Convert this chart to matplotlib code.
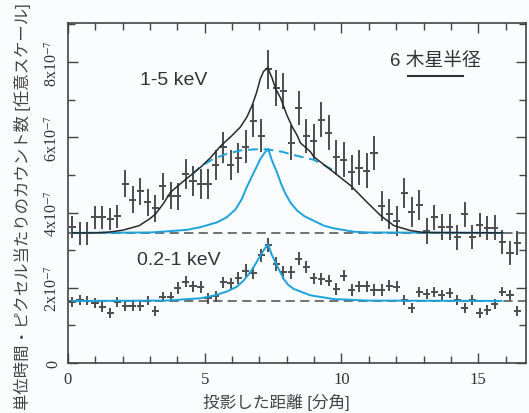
# Radial profile of the X-ray counts, 1-5 keV and 0.2-1 keV bands, with model curves.

import matplotlib
matplotlib.use("Agg")
import matplotlib.pyplot as plt
from matplotlib.ticker import MultipleLocator

plt.rcParams['font.family'] = ['Liberation Sans', 'Noto Sans CJK JP', 'DejaVu Sans']
plt.rcParams['mathtext.fontset'] = 'stix'

# bin centres [arcmin]
r = [0.16, 0.44, 0.71, 0.99, 1.26, 1.54, 1.81, 2.09, 2.37, 2.64,
     2.92, 3.19, 3.47, 3.75, 4.02, 4.30, 4.57, 4.85, 5.12, 5.40,
     5.68, 5.95, 6.23, 6.50, 6.78, 7.06, 7.33, 7.61, 7.88, 8.16,
     8.43, 8.71, 8.99, 9.26, 9.54, 9.81, 10.09, 10.37, 10.64, 10.92,
     11.19, 11.47, 11.74, 12.02, 12.30, 12.57, 12.85, 13.12, 13.40, 13.67,
     13.95, 14.23, 14.50, 14.78, 15.05, 15.33, 15.61, 15.88, 16.16, 16.43]
r_err = 0.13

# 1-5 keV counts [1e-7]
hard = [3.61, 3.45, 3.45, 3.87, 3.87, 3.83, 3.90, 4.76, 4.34, 4.56,
        4.27, 4.11, 4.70, 4.45, 4.43, 5.03, 4.85, 4.76, 4.76, 5.27,
        5.73, 5.27, 5.44, 5.75, 6.44, 6.04, 7.81, 7.30, 7.23, 5.86,
        6.78, 6.04, 5.89, 6.47, 6.12, 5.47, 5.41, 5.07, 5.19, 5.11,
        5.58, 4.17, 3.97, 3.77, 4.52, 4.01, 4.19, 3.51, 3.87, 3.62,
        3.62, 3.34, 3.95, 3.35, 3.67, 3.59, 3.60, 3.21, 2.93, 3.19]
hard_err = [0.30, 0.30, 0.30, 0.30, 0.30, 0.30, 0.30, 0.36, 0.36, 0.36,
            0.36, 0.36, 0.36, 0.36, 0.36, 0.40, 0.40, 0.40, 0.40, 0.40,
            0.40, 0.40, 0.40, 0.44, 0.44, 0.44, 0.52, 0.48, 0.48, 0.46,
            0.46, 0.46, 0.46, 0.46, 0.46, 0.46, 0.46, 0.46, 0.46, 0.46,
            0.46, 0.40, 0.40, 0.40, 0.40, 0.40, 0.40, 0.34, 0.34, 0.34,
            0.34, 0.33, 0.33, 0.33, 0.33, 0.33, 0.33, 0.32, 0.32, 0.32]

# 0.2-1 keV counts [1e-7]
soft = [1.63, 1.68, 1.66, 1.60, 1.48, 1.33, 1.63, 1.52, 1.52, 1.52,
        1.66, 1.39, 1.75, 1.76, 1.99, 2.16, 2.04, 2.02, 1.72, 1.77,
        2.14, 2.12, 2.27, 2.45, 2.39, 2.86, 3.14, 2.63, 2.41, 2.41,
        2.77, 2.55, 2.25, 2.23, 2.19, 1.97, 2.32, 1.94, 2.04, 2.04,
        1.94, 1.94, 2.06, 2.03, 1.68, 1.47, 1.89, 1.84, 1.88, 1.81,
        1.86, 1.68, 1.46, 1.68, 1.32, 1.41, 1.57, 1.90, 1.81, 1.39]
soft_err = [0.13, 0.13, 0.13, 0.13, 0.13, 0.13, 0.13, 0.13, 0.13, 0.13,
            0.13, 0.13, 0.14, 0.14, 0.15, 0.15, 0.15, 0.15, 0.15, 0.15,
            0.15, 0.15, 0.16, 0.17, 0.17, 0.18, 0.19, 0.18, 0.17, 0.17,
            0.17, 0.17, 0.15, 0.15, 0.15, 0.15, 0.15, 0.15, 0.15, 0.15,
            0.15, 0.15, 0.15, 0.15, 0.13, 0.13, 0.13, 0.13, 0.13, 0.13,
            0.13, 0.13, 0.13, 0.13, 0.13, 0.13, 0.13, 0.13, 0.13, 0.13]

# background levels
bg_hard = 3.46
bg_soft = 1.65

# total model, 1-5 keV
tot_x = [0.16, 1.0, 1.5, 2.0, 2.6, 3.0, 3.2, 3.5, 3.75, 4.1, 4.47, 4.84, 5.2, 5.57,
         6.0, 6.3, 6.55, 6.75, 6.9, 7.03, 7.15, 7.3, 7.45, 7.6, 7.77, 8.01, 8.2,
         8.38, 8.5, 8.86, 8.99, 9.4, 9.72, 10.33, 10.94, 11.43, 11.92, 12.53, 13.0, 15.9]
tot_y = [3.46, 3.46, 3.48, 3.53, 3.65, 3.84, 3.96, 4.25, 4.54, 4.76, 4.98, 5.20, 5.45, 5.76,
         6.05, 6.27, 6.55, 6.88, 7.20, 7.55, 7.75, 7.85, 7.60, 7.28, 7.05, 6.58, 6.28,
         6.05, 5.85, 5.62, 5.48, 5.25, 5.07, 4.72, 4.27, 3.92, 3.65, 3.52, 3.47, 3.46]

# broad component (dashed), 1-5 keV
broad_x = [4.55, 4.84, 5.32, 5.8, 6.3, 6.8, 7.28, 7.8, 8.25, 8.99, 9.72]
broad_y = [5.02, 5.22, 5.43, 5.56, 5.65, 5.68, 5.68, 5.62, 5.53, 5.40, 5.12]

# narrow component, 1-5 keV
narrow_x = [0.16, 3.0, 3.62, 4.35, 4.84, 5.45, 5.8, 6.12, 6.35, 6.54, 6.75, 6.9, 7.03,
            7.2, 7.32, 7.45, 7.64, 7.8, 7.95, 8.15, 8.38, 8.65, 8.99, 9.36, 9.72,
            10.45, 11.0, 15.9]
narrow_y = [3.46, 3.47, 3.50, 3.54, 3.61, 3.74, 3.87, 4.08, 4.35, 4.68, 5.00, 5.22, 5.42,
            5.60, 5.69, 5.40, 5.07, 4.75, 4.50, 4.25, 4.05, 3.90, 3.78, 3.65, 3.58,
            3.49, 3.47, 3.46]

# model, 0.2-1 keV
soft_mx = [0.16, 3.6, 4.84, 5.32, 5.81, 6.18, 6.42, 6.6, 6.79, 6.95, 7.09, 7.2, 7.32,
           7.45, 7.64, 7.89, 8.05, 8.25, 8.5, 8.86, 9.11, 9.72, 10.94, 15.85]
soft_my = [1.65, 1.66, 1.72, 1.79, 1.90, 2.03, 2.19, 2.35, 2.55, 2.75, 2.92, 3.05, 3.15,
           2.88, 2.59, 2.23, 2.08, 1.97, 1.90, 1.80, 1.77, 1.70, 1.66, 1.65]

blue = '#1aa3dc'
grey = '#4d4d4d'

fig = plt.figure(figsize=(5.29, 4.14), dpi=100, facecolor='#fbfcfd')
ax = fig.add_axes([0.1285, 0.1208, 0.866, 0.8213])
ax.set_facecolor('#fbfcfd')

ax.axhline(bg_hard, color=grey, lw=1.1, ls=(0, (6, 3.5)), zorder=1)
ax.axhline(bg_soft, color=grey, lw=1.1, ls=(0, (6, 3.5)), zorder=1)

ax.errorbar(r, hard, xerr=r_err, yerr=hard_err, fmt='none', ecolor=grey, elinewidth=1.4, zorder=2)
ax.errorbar(r, soft, xerr=r_err, yerr=soft_err, fmt='none', ecolor=grey, elinewidth=1.4, zorder=2)

ax.plot(narrow_x, narrow_y, color=blue, lw=1.4, zorder=3)
ax.plot(broad_x, broad_y, color=blue, lw=1.4, ls=(0, (5, 3)), zorder=3)
ax.plot(tot_x, tot_y, color='#2a2a2a', lw=1.1, zorder=4)
ax.plot(soft_mx, soft_my, color=blue, lw=1.4, zorder=3)

ax.set_xlim(0, 16.75)
ax.set_ylim(0, 9.04)

ax.xaxis.set_major_locator(MultipleLocator(5))
ax.xaxis.set_minor_locator(MultipleLocator(1))
ax.yaxis.set_major_locator(MultipleLocator(2))
ax.yaxis.set_minor_locator(MultipleLocator(1))
ax.tick_params(which='both', direction='in', top=True, right=True, colors='#444444')
ax.tick_params(which='major', length=7, width=1)
ax.tick_params(which='minor', length=5, width=1)

ax.set_xticks([0, 5, 10, 15])
ax.set_xticklabels(['0', '5', '10', '15'], fontfamily='Liberation Serif', fontsize=12, color='#333333')
ax.set_yticks([0, 2, 4, 6, 8])
ax.set_yticklabels(['0', '2x10$^{-7}$', '4x10$^{-7}$', '6x10$^{-7}$', '8x10$^{-7}$'],
                   fontfamily='Liberation Serif', fontsize=11.5, color='#333333',
                   rotation=90, va='center')
ax.tick_params(axis='y', pad=5)
ax.tick_params(axis='x', pad=6)

for s in ax.spines.values():
    s.set_color('#444444')
    s.set_linewidth(1.2)

ax.text(3.86, 7.53, '1-5 keV', fontsize=14, color='#333333', ha='center', va='center')
ax.text(4.07, 2.74, '0.2-1 keV', fontsize=14, color='#333333', ha='center', va='center')
ax.text(13.44, 8.05, '6 木星半径', fontsize=13.5, color='#333333', ha='center', va='center')
ax.plot([12.42, 14.43], [7.63, 7.63], color='#333333', lw=1.5)

fig.text(276 / 529, 1 - 402 / 414, '投影した距離 [分角]', fontsize=12, color='#444444',
         ha='center', va='center')
fig.text(22 / 529, 0.5, '単位時間・ピクセル当たりのカウント数 [任意スケール]', fontsize=11.8,
         color='#444444', rotation=90, ha='center', va='center')

fig.savefig('out.png', dpi=100, facecolor=fig.get_facecolor())
